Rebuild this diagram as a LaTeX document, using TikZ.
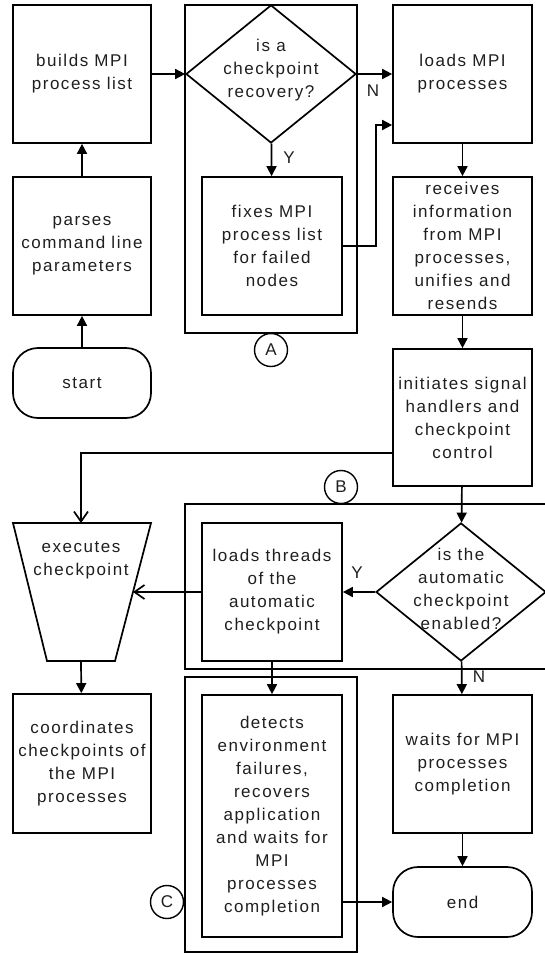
\documentclass[tikz,border=0pt]{standalone}
\usepackage{fontspec}
\setmainfont{Liberation Sans}[LetterSpace=9]
\usetikzlibrary{arrows.meta,shapes.geometric}
\begin{document}
\begin{tikzpicture}[x=1pt,y=-1pt,
  every node/.style={font=\fontsize{17}{23}\selectfont, text=black!88},
  ln/.style={line width=1.7pt},
  box/.style={draw, ln, fill=white, minimum width=139pt, minimum height=138pt, inner sep=0pt, align=center},
  term/.style={draw, ln, fill=white, rounded corners=25pt, minimum width=139pt, minimum height=70pt, inner sep=0pt, align=center},
  dia/.style={draw, ln, fill=white, diamond, minimum width=170pt, minimum height=138pt, inner sep=0pt},
  frame/.style={draw, ln, minimum width=172pt, inner sep=0pt},
  circ/.style={draw, line width=1.4pt, fill=white, circle, minimum size=33pt, inner sep=0pt},
  txt/.style={align=center, inner sep=0pt},
  arr/.style={ln, -{Triangle[length=10pt,width=10pt]}},
  oarr/.style={ln, -{Straight Barb[length=10pt,width=14pt]}}
]
\useasboundingbox (0,0) rectangle (545,953);

% frames
\node[frame, minimum height=328pt] (frameA) at (271,169) {};
\node[frame, minimum height=275pt] (frameC) at (271,814.5) {};
\draw[ln] (550,504) -- (185,504) -- (185,669) -- (550,669);

% left column
\node[box, minimum width=138pt] (builds) at (82,74) {builds MPI\\process list};
\node[box, minimum width=138pt] (parses) at (82,246) {parses\\command line\\parameters};
\node[term, minimum width=138pt] (start) at (82,383) {start};

% trapezoid
\coordinate (tTL) at (13,523);
\coordinate (tTR) at (151,523);
\coordinate (tBR) at (115,661);
\coordinate (tBL) at (47,661);
\coordinate (tTop) at (81,523);
\coordinate (tRight) at (133,592);
\coordinate (tBot) at (81,661);
\draw[ln, fill=white] (tTL) -- (tTR) -- (tBR) -- (tBL) -- cycle;
\node[txt] (exec) at (81,560) {executes\\checkpoint};
\node[box, minimum width=138pt, minimum height=139pt] (coord) at (82,763.5) {coordinates\\checkpoints of\\the MPI\\processes};

% middle column
\node[dia] (q1) at (271,74) {};
\node[txt] (q1t) at (271,70) {is a\\checkpoint\\recovery?};
\node[box, minimum width=140pt] (fixes) at (272,246) {fixes MPI\\process list\\for failed\\nodes};
\node[box, minimum width=140pt] (threads) at (272,592) {loads threads\\of the\\automatic\\checkpoint};
\node[box, minimum width=140pt, minimum height=242pt] (detects) at (272,816) {detects\\environment\\failures,\\recovers\\application\\and waits for\\MPI\\processes\\completion};

% right column
\node[box] (loads) at (462.5,74) {loads MPI\\processes};
\node[box] (recv) at (462.5,246) {receives\\information\\from MPI\\processes,\\unifies and\\resends};
\node[box, minimum height=137pt] (init) at (462.5,417.5) {initiates signal\\handlers and\\checkpoint\\control};
\node[dia] (q2) at (461,592) {};
\node[txt] (q2t) at (461,589) {is the\\automatic\\checkpoint\\enabled?};
\node[box] (waits) at (462.5,764) {waits for MPI\\processes\\completion};
\node[term] (end) at (462.5,902) {end};

% circles
\node[circ] (cA) at (271,350) {A};
\node[circ] (cB) at (341,487) {B};
\node[circ] (cC) at (167,902) {C};

% connectors
\draw[arr] (start) -- (parses);
\draw[arr] (parses) -- (builds);
\draw[arr] (builds) -- (q1);
\draw[arr] (q1) -- (fixes);
\draw[arr] (q1) -- (loads);
\draw[arr] (fixes.east) -- ++(33,0) |- ([yshift=-51pt]loads.west);
\draw[arr] (loads) -- (recv);
\draw[arr] (recv) -- (init);
\draw[oarr] ([yshift=-35.5pt]init.west) -| (tTop);
\draw[arr] (init) -- (q2);
\draw[arr] (q2) -- (threads);
\draw[oarr] (threads) -- (tRight);
\draw[arr] (tBot) -- (coord);
\draw[arr] (threads) -- (detects);
\draw[arr] (q2) -- (waits);
\draw[arr] (waits) -- (end);
\draw[arr] (end.west -| detects.east) -- (end.west);

% labels
\node (lY1) at (289,158) {Y};
\node (lN1) at (373,91) {N};
\node (lY2) at (357,573) {Y};
\node (lN2) at (479,677) {N};
\end{tikzpicture}
\end{document}
